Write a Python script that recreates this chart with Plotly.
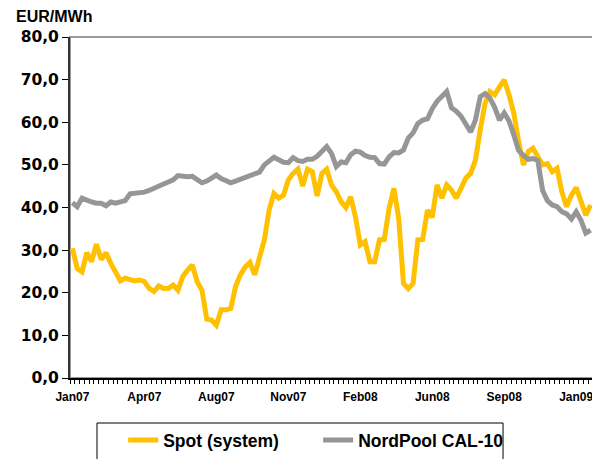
import plotly.graph_objects as go

# Weekly prices, EUR/MWh (Jan 2007 - Jan 2009)
spot = [30.4, 25.7, 24.9, 29.4, 27.3, 31.4, 27.8, 29.4, 26.9, 24.6,
        22.8, 23.4, 23.0, 22.8, 23.0, 22.6, 21.0, 20.3, 21.6, 21.0,
        21.0, 21.8, 20.6, 23.8, 25.3, 26.5, 22.6, 20.6, 13.8, 13.6,
        12.4, 16.0, 16.0, 16.3, 21.4, 24.2, 26.0, 27.1, 24.2, 28.5,
        32.4, 39.4, 43.3, 42.2, 42.9, 46.5, 48.0, 49.0, 45.0, 49.0,
        48.4, 42.7, 48.0, 49.0, 45.3, 43.7, 41.4, 40.0, 42.5, 37.8,
        31.2, 32.0, 27.3, 27.3, 32.4, 32.5, 39.8, 44.5, 37.5, 22.2,
        21.0, 22.2, 32.4, 32.5, 39.4, 37.7, 45.3, 42.2, 45.3, 44.1,
        42.2, 44.5, 46.9, 48.0, 51.1, 58.2, 64.4, 67.2, 66.4, 68.3,
        69.9, 66.4, 62.1, 55.4, 50.0, 53.1, 53.9, 51.9, 50.0, 50.3,
        48.4, 49.2, 43.7, 40.2, 42.9, 44.7, 41.8, 38.2, 40.6]

cal10 = [41.1, 40.2, 42.2, 41.6, 41.3, 41.0, 41.0, 40.4, 41.3, 41.0,
         41.2, 41.6, 43.2, 43.3, 43.4, 43.6, 44.0, 44.4, 45.0, 45.5,
         46.0, 46.5, 47.5, 47.2, 47.2, 47.3, 46.5, 45.8, 46.2, 47.0,
         47.6, 46.8, 46.2, 45.8, 46.2, 46.6, 47.1, 47.5, 47.8, 48.3,
         50.0, 51.0, 51.8, 51.2, 50.6, 50.5, 51.7, 51.0, 50.8, 51.3,
         51.3, 52.0, 53.2, 54.3, 52.7, 49.6, 50.7, 50.5, 52.4, 53.2,
         53.0, 52.2, 51.8, 51.7, 50.3, 50.2, 51.9, 52.9, 52.8, 53.5,
         56.3, 57.5, 59.7, 60.5, 60.8, 63.2, 64.9, 66.2, 67.2, 63.4,
         62.6, 61.4, 59.7, 57.7, 60.5, 66.0, 66.7, 65.7, 63.5, 60.5,
         62.2, 60.3, 57.0, 53.4, 52.2, 51.3, 51.5, 51.0, 44.0, 41.6,
         40.6, 40.2, 39.0, 38.5, 37.3, 39.0, 37.0, 34.0, 34.7]

tick_labels = ["Jan07", "Apr07", "Aug07", "Nov07", "Feb08", "Jun08", "Sep08", "Jan09"]
label_step = 15  # weeks between labels

weeks = list(range(len(spot)))
tick_positions = weeks[::label_step][:len(tick_labels)]
n = len(weeks)

ARIAL = "Arial, Liberation Sans, sans-serif"

fig = go.Figure()
fig.add_trace(go.Scatter(x=weeks, y=spot, name="Spot (system)", mode="lines",
                         line=dict(color="#FFC000", width=5)))
fig.add_trace(go.Scatter(x=weeks, y=cal10, name="NordPool CAL-10", mode="lines",
                         line=dict(color="#969696", width=5)))

# page body has an 8px margin, so the figure is 8px smaller on each side
fig.update_layout(
    width=592, height=451,
    margin=dict(l=62, r=7, t=29, b=81, autoexpand=False),
    paper_bgcolor="white", plot_bgcolor="white",
    separators=",.",
    showlegend=True,
    legend=dict(orientation="h", x=0.1016, xanchor="left", y=-0.182, yanchor="middle",
                font=dict(family=ARIAL, size=17.5, color="black", weight="bold"),
                entrywidth=150, entrywidthmode="pixels", itemwidth=30,
                bgcolor="rgba(0,0,0,0)", borderwidth=0),
    xaxis=dict(range=[-0.5, n - 0.5], tickmode="array", tickvals=tick_positions,
               ticktext=tick_labels, ticks="", showline=True, linecolor="black",
               linewidth=2, showgrid=False, zeroline=False, automargin=False,
               ticklabelstandoff=7,
               tickfont=dict(family=ARIAL, size=12, color="black", weight="bold"),
               minor=dict(tick0=-0.5, dtick=1, ticks="outside", ticklen=4,
                          tickcolor="black", tickwidth=1)),
    xaxis2=dict(overlaying="x", anchor="y", side="bottom", range=[-0.5, n - 0.5],
                tickmode="linear", tick0=-0.5, dtick=1, ticks="inside", ticklen=4,
                tickcolor="black", tickwidth=1, showticklabels=False,
                showline=False, showgrid=False, zeroline=False),
    yaxis=dict(range=[0, 80], tickmode="linear", tick0=0, dtick=10, tickformat=".1f",
               ticks="outside", ticklen=6, tickcolor="black", tickwidth=1,
               showline=True, linecolor="#333333", linewidth=2,
               showgrid=False, zeroline=False, automargin=False,
               tickfont=dict(family="DejaVu Sans, sans-serif", size=15.5, color="black",
                             weight="bold")),
    yaxis2=dict(overlaying="y", anchor="x", side="left", range=[0, 80],
                tickmode="linear", tick0=0, dtick=10, ticks="inside", ticklen=6,
                tickcolor="black", tickwidth=1, showticklabels=False,
                showline=False, showgrid=False, zeroline=False),
    shapes=[
        dict(type="rect", xref="paper", yref="paper", x0=0, x1=1, y0=0, y1=1,
             line=dict(color="#999999", width=2), layer="below"),
        dict(type="rect", xref="paper", yref="paper", x0=0.0516, x1=0.828,
             y0=-0.27, y1=-0.132, line=dict(color="black", width=1)),
    ],
    annotations=[
        dict(text="EUR/MWh", xref="paper", yref="paper", x=-0.107, y=1,
             xanchor="left", yanchor="bottom", yshift=10, showarrow=False,
             font=dict(family=ARIAL, size=16, color="black", weight="bold")),
    ],
)

fig.write_html("out.html")
